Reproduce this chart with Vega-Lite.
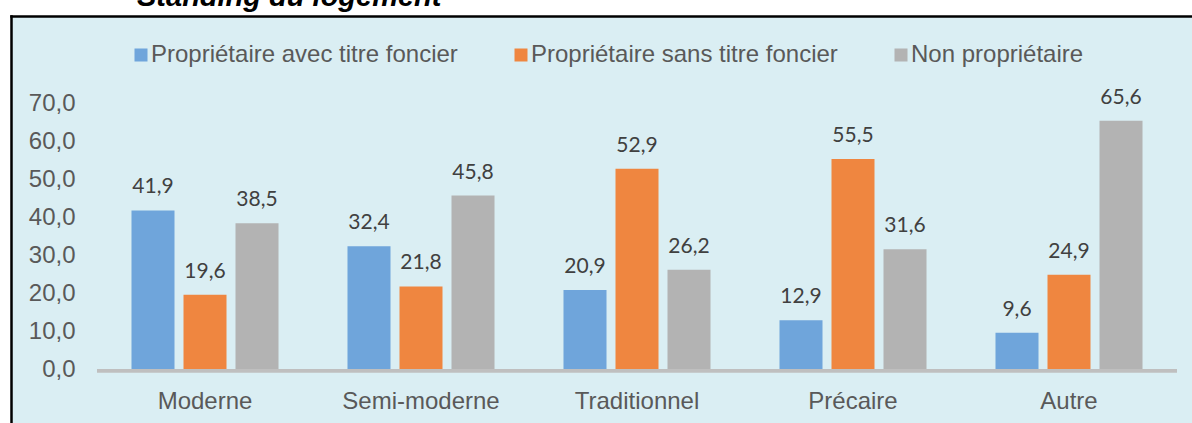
{
  "$schema": "https://vega.github.io/schema/vega-lite/v6.json",
  "autosize": "none",
  "width": 1181,
  "height": 407,
  "padding": {"left": 11, "top": 16, "right": 0, "bottom": 0},
  "background": "white",
  "title": {
    "text": "Standing du logement",
    "font": "Liberation Sans",
    "fontSize": 29,
    "fontWeight": "bold",
    "fontStyle": "italic",
    "color": "black",
    "anchor": "start",
    "frame": "group",
    "dx": 126,
    "dy": 18.5,
    "offset": 0,
    "baseline": "alphabetic"
  },
  "datasets": {
    "bars": [
      {"cat": "Moderne", "serie": "Propriétaire avec titre foncier", "v": 41.9},
      {"cat": "Moderne", "serie": "Propriétaire sans titre foncier", "v": 19.6},
      {"cat": "Moderne", "serie": "Non propriétaire", "v": 38.5},
      {"cat": "Semi-moderne", "serie": "Propriétaire avec titre foncier", "v": 32.4},
      {"cat": "Semi-moderne", "serie": "Propriétaire sans titre foncier", "v": 21.8},
      {"cat": "Semi-moderne", "serie": "Non propriétaire", "v": 45.8},
      {"cat": "Traditionnel", "serie": "Propriétaire avec titre foncier", "v": 20.9},
      {"cat": "Traditionnel", "serie": "Propriétaire sans titre foncier", "v": 52.9},
      {"cat": "Traditionnel", "serie": "Non propriétaire", "v": 26.2},
      {"cat": "Précaire", "serie": "Propriétaire avec titre foncier", "v": 12.9},
      {"cat": "Précaire", "serie": "Propriétaire sans titre foncier", "v": 55.5},
      {"cat": "Précaire", "serie": "Non propriétaire", "v": 31.6},
      {"cat": "Autre", "serie": "Propriétaire avec titre foncier", "v": 9.6},
      {"cat": "Autre", "serie": "Propriétaire sans titre foncier", "v": 24.9},
      {"cat": "Autre", "serie": "Non propriétaire", "v": 65.6}
    ],
    "cats": [
      {"cat": "Moderne"},
      {"cat": "Semi-moderne"},
      {"cat": "Traditionnel"},
      {"cat": "Précaire"},
      {"cat": "Autre"}
    ]
  },
  "layer": [
    {
      "data": {"name": "cats"},
      "mark": {"type": "rect", "color": "#bfbfbf"},
      "encoding": {
        "x": {
          "field": "cat",
          "type": "nominal",
          "scale": {
            "domain": ["Moderne", "Semi-moderne", "Traditionnel", "Précaire", "Autre"],
            "paddingInner": 0,
            "paddingOuter": 0.2338,
            "align": 0.8515
          },
          "axis": null
        },
        "y": {"datum": 0, "type": "quantitative", "scale": {"domain": [-14.264, 93.245], "nice": false, "zero": false}, "axis": null},
        "y2": {"datum": -1}
      }
    },
    {
      "data": {"name": "bars"},
      "mark": {"type": "bar"},
      "encoding": {
        "x": {
          "field": "cat",
          "type": "nominal",
          "scale": {
            "domain": ["Moderne", "Semi-moderne", "Traditionnel", "Précaire", "Autre"],
            "paddingInner": 0,
            "paddingOuter": 0.2338,
            "align": 0.8515
          },
          "axis": {
            "orient": "bottom",
            "offset": -15,
            "labelPadding": 0,
            "labelBaseline": "alphabetic",
            "labelAngle": 0,
            "title": null,
            "labelFont": "Liberation Sans",
            "labelFontSize": 24,
            "labelColor": "#595959"
          }
        },
        "y": {
          "field": "v",
          "type": "quantitative",
          "scale": {"domain": [-14.264, 93.245], "nice": false, "zero": false},
          "axis": {
            "orient": "left",
            "values": [0, 10, 20, 30, 40, 50, 60, 70],
            "format": ".1f",
            "offset": -64,
            "labelPadding": 0,
            "title": null,
            "labelFont": "Liberation Sans",
            "labelFontSize": 24,
            "labelColor": "#595959",
            "labelBaseline": "middle"
          }
        },
        "xOffset": {
          "field": "serie",
          "type": "nominal",
          "sort": ["Propriétaire avec titre foncier", "Propriétaire sans titre foncier", "Non propriétaire"],
          "scale": {"paddingInner": 0.173, "paddingOuter": 0.663}
        },
        "color": {
          "field": "serie",
          "type": "nominal",
          "sort": ["Propriétaire avec titre foncier", "Propriétaire sans titre foncier", "Non propriétaire"],
          "scale": {"range": ["#6fa5db", "#ef8640", "#b3b3b3"]},
          "legend": {
            "orient": "none",
            "legendX": 118,
            "legendY": 27,
            "direction": "horizontal",
            "title": null,
            "symbolType": "square",
            "symbolSize": 169,
            "symbolStrokeWidth": 0,
            "symbolOpacity": 1,
            "labelFont": "Liberation Sans",
            "labelFontSize": 24,
            "labelColor": "#595959",
            "labelOffset": -2,
            "columnPadding": 51,
            "padding": 0,
            "labelLimit": 500
          }
        }
      }
    },
    {
      "data": {"name": "bars"},
      "mark": {
        "type": "text",
        "font": "Lato",
        "fontSize": 21,
        "color": "#404040",
        "baseline": "alphabetic",
        "dy": -17
      },
      "encoding": {
        "x": {
          "field": "cat",
          "type": "nominal",
          "scale": {
            "domain": ["Moderne", "Semi-moderne", "Traditionnel", "Précaire", "Autre"],
            "paddingInner": 0,
            "paddingOuter": 0.2338,
            "align": 0.8515
          },
          "axis": {
            "orient": "top",
            "offset": 0,
            "domain": true,
            "domainColor": "black",
            "domainWidth": 2.5,
            "domainCap": "square",
            "labels": false,
            "ticks": false,
            "grid": false,
            "title": null
          }
        },
        "y": {
          "field": "v",
          "type": "quantitative",
          "scale": {"domain": [-14.264, 93.245], "nice": false, "zero": false},
          "axis": {
            "orient": "left",
            "offset": 0,
            "domain": true,
            "domainColor": "black",
            "domainWidth": 2.5,
            "domainCap": "square",
            "labels": false,
            "ticks": false,
            "grid": false,
            "title": null
          }
        },
        "xOffset": {
          "field": "serie",
          "type": "nominal",
          "sort": ["Propriétaire avec titre foncier", "Propriétaire sans titre foncier", "Non propriétaire"]
        },
        "text": {"field": "v", "type": "quantitative", "format": ".1f"}
      }
    }
  ],
  "resolve": {"axis": {"x": "independent", "y": "independent"}},
  "config": {
    "locale": {
      "number": {"decimal": ",", "thousands": " ", "grouping": [3], "currency": ["", " €"]}
    },
    "view": {"fill": "#daeef3", "stroke": null},
    "axis": {"domain": false, "ticks": false, "grid": false}
  }
}
